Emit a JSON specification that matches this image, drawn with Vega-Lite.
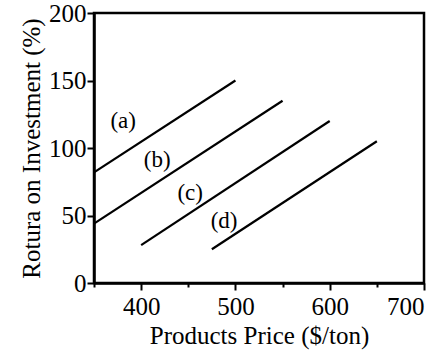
{
  "$schema": "https://vega.github.io/schema/vega-lite/v6.json",
  "autosize": "none",
  "width": 330,
  "height": 270,
  "padding": {"left": 94, "top": 13, "right": 17, "bottom": 70},
  "background": "white",
  "config": {
    "font": "Liberation Serif",
    "view": {"stroke": "black", "strokeWidth": 2.5},
    "axis": {
      "domainColor": "black", "domainWidth": 2.5,
      "tickColor": "black", "tickWidth": 2,
      "labelFont": "Liberation Serif", "labelFontSize": 25, "labelColor": "black",
      "titleFont": "Liberation Serif", "titleFontSize": 25, "titleFontWeight": "normal", "titleColor": "black",
      "grid": false
    }
  },
  "datasets": {
    "lines": [
      {"series": "a", "price": 350, "roi": 82},
      {"series": "a", "price": 500, "roi": 150},
      {"series": "b", "price": 350, "roi": 44},
      {"series": "b", "price": 550, "roi": 135},
      {"series": "c", "price": 400, "roi": 28},
      {"series": "c", "price": 600, "roi": 120},
      {"series": "d", "price": 475, "roi": 25},
      {"series": "d", "price": 650, "roi": 105}
    ],
    "labels": [
      {"label": "(a)", "price": 381, "roi": 120},
      {"label": "(b)", "price": 417, "roi": 91},
      {"label": "(c)", "price": 452, "roi": 67},
      {"label": "(d)", "price": 488, "roi": 46}
    ]
  },
  "layer": [
    {
      "data": {"name": "lines"},
      "mark": {"type": "line", "color": "black", "strokeWidth": 2.2},
      "encoding": {
        "x": {
          "field": "price", "type": "quantitative",
          "scale": {"domain": [350, 700], "nice": false, "zero": false},
          "axis": {
            "title": "Products Price ($/ton)",
            "values": [350, 400, 450, 500, 550, 600, 650, 700],
            "labelExpr": "datum.value % 100 === 0 ? datum.label : ''",
            "tickSize": {"condition": {"test": "datum.value % 100 === 0", "value": 7}, "value": 4},
            "labelPadding": 4,
            "titlePadding": 4
          }
        },
        "y": {
          "field": "roi", "type": "quantitative",
          "scale": {"domain": [0, 200], "nice": false},
          "axis": {
            "title": "Rotura on Investment (%)",
            "values": [0, 25, 50, 75, 100, 125, 150, 175, 200],
            "labelExpr": "datum.value % 50 === 0 ? datum.label : ''",
            "tickSize": {"condition": {"test": "datum.value % 50 === 0", "value": 7}, "value": 4},
            "labelPadding": 1,
            "titlePadding": 4
          }
        },
        "detail": {"field": "series"}
      }
    },
    {
      "data": {"name": "labels"},
      "mark": {"type": "text", "font": "Liberation Serif", "fontSize": 23, "color": "black"},
      "encoding": {
        "x": {"field": "price", "type": "quantitative"},
        "y": {"field": "roi", "type": "quantitative"},
        "text": {"field": "label"}
      }
    }
  ]
}
